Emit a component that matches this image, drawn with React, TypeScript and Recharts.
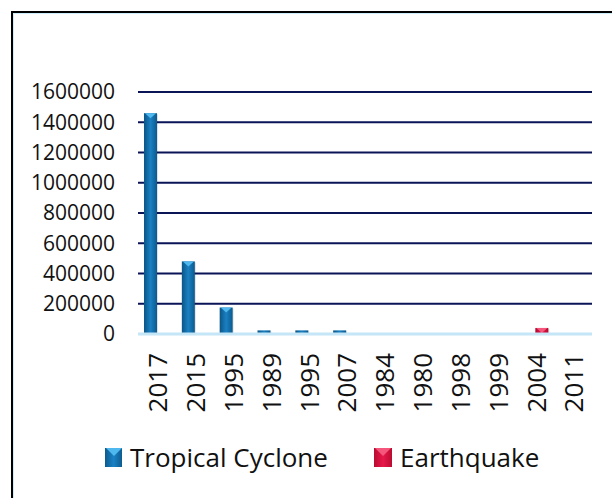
import React from 'react';
import { BarChart, Bar, XAxis, YAxis, CartesianGrid, Legend } from 'recharts';

const years = ['2017', '2015', '1995', '1989', '1995', '2007', '1984', '1980', '1998', '1999', '2004', '2011'];
const tropicalCyclone = [1460000, 480000, 175000, 24000, 24000, 24000, 0, 0, 0, 0, 0, 0];
const earthquake = [0, 0, 0, 0, 0, 0, 0, 0, 0, 0, 40000, 0];
const yTicks = [0, 200000, 400000, 600000, 800000, 1000000, 1200000, 1400000, 1600000];

const chartData = years.map((year, i) => ({
  year,
  tc: tropicalCyclone[i],
  eq: earthquake[i],
}));

const FONT = '"Open Sans", "Noto Sans", sans-serif';

// bevelled bar look: horizontal gradient plus a light cap on top
function makeShape(gradId: string, cap: string) {
  return (props: any) => {
    const { x, y, width, height } = props;
    if (!height || height <= 0) return <g />;
    const capH = height > 6 ? 5 : Math.max(1, height / 2);
    return (
      <g>
        <rect x={x + 1} y={y + 1} width={width} height={height} fill="rgba(0,0,0,0.12)" />
        <rect x={x} y={y} width={width} height={height} fill={`url(#${gradId})`} />
        {height > 4 ? (
          <polygon
            points={`${x + 1},${y} ${x + width - 1},${y} ${x + width / 2},${y + capH}`}
            fill={cap}
          />
        ) : null}
      </g>
    );
  };
}

const XTick = (props: any) => {
  const { x, y, payload } = props;
  return (
    <text
      x={0}
      y={0}
      transform={`translate(${x + 1},${y + 11}) rotate(-90)`}
      textAnchor="end"
      dy="0.36em"
      fontSize={26}
      fontFamily={FONT}
      fill="#111"
    >
      {payload.value}
    </text>
  );
};

const LegendContent = () => (
  <div style={{ position: 'relative', width: 612, height: 30, fontFamily: FONT, fontSize: 26, color: '#111' }}>
    <div style={{ position: 'absolute', left: 105, top: 6, width: 17, height: 19, background: 'linear-gradient(90deg,#0d5a8e,#1a82c4 50%,#0e5c90)' }}>
      <div style={{ width: 0, height: 0, margin: '0 auto', borderLeft: '8px solid transparent', borderRight: '8px solid transparent', borderTop: '8px solid #4fb8ee' }} />
    </div>
    <span style={{ position: 'absolute', left: 130, top: 0, lineHeight: '30px', whiteSpace: 'nowrap' }}>Tropical Cyclone</span>
    <div style={{ position: 'absolute', left: 374, top: 6, width: 18, height: 19, background: 'linear-gradient(90deg,#b80c30,#e8174a 50%,#b90d31)' }}>
      <div style={{ width: 0, height: 0, margin: '0 auto', borderLeft: '8px solid transparent', borderRight: '8px solid transparent', borderTop: '8px solid #f5577c' }} />
    </div>
    <span style={{ position: 'absolute', left: 400, top: 0, lineHeight: '30px', whiteSpace: 'nowrap' }}>Earthquake</span>
  </div>
);

export default function App() {
  return (
    <div style={{ position: 'fixed', left: 0, top: 0, width: 612, height: 498, overflow: 'hidden', background: '#fff' }}>
      <div
        style={{
          position: 'absolute',
          left: 11,
          top: 11,
          width: 700,
          height: 600,
          border: '2px solid #000',
          boxShadow: 'inset 0 0 0 1px #cfeefc',
        }}
      />
      <div style={{ position: 'absolute', left: 0, top: 0 }}>
        <BarChart
          width={612}
          height={498}
          data={chartData}
          margin={{ top: 92, right: 20, left: 0, bottom: 26 }}
          barGap={0}
          barSize={13}
        >
          <defs>
            <linearGradient id="tcGrad" x1="0" y1="0" x2="1" y2="0">
              <stop offset="0%" stopColor="#0b5586" />
              <stop offset="50%" stopColor="#1a80c2" />
              <stop offset="100%" stopColor="#0c5a8e" />
            </linearGradient>
            <linearGradient id="eqGrad" x1="0" y1="0" x2="1" y2="0">
              <stop offset="0%" stopColor="#b00a2d" />
              <stop offset="50%" stopColor="#e8174a" />
              <stop offset="100%" stopColor="#b30b2f" />
            </linearGradient>
          </defs>
          <CartesianGrid vertical={false} stroke="#0a1558" strokeWidth={2} />
          <XAxis
            dataKey="year"
            height={108}
            interval={0}
            axisLine={{ stroke: '#c4e6f7', strokeWidth: 3 }}
            tickLine={false}
            tick={<XTick />}
          />
          <YAxis
            width={138}
            domain={[0, 1600000]}
            ticks={yTicks}
            interval={0}
            axisLine={false}
            tickLine={false}
            tickMargin={17}
            tick={{ fontSize: 21, fontFamily: FONT, fill: '#111' }}
          />
          <Legend verticalAlign="bottom" content={<LegendContent />} wrapperStyle={{ left: 0, width: 612 }} />
          <Bar dataKey="tc" name="Tropical Cyclone" fill="#1570ad" shape={makeShape('tcGrad', '#4fb8ee')} isAnimationActive={false} />
          <Bar dataKey="eq" name="Earthquake" fill="#e0143f" shape={makeShape('eqGrad', '#f5577c')} isAnimationActive={false} />
        </BarChart>
      </div>
    </div>
  );
}
